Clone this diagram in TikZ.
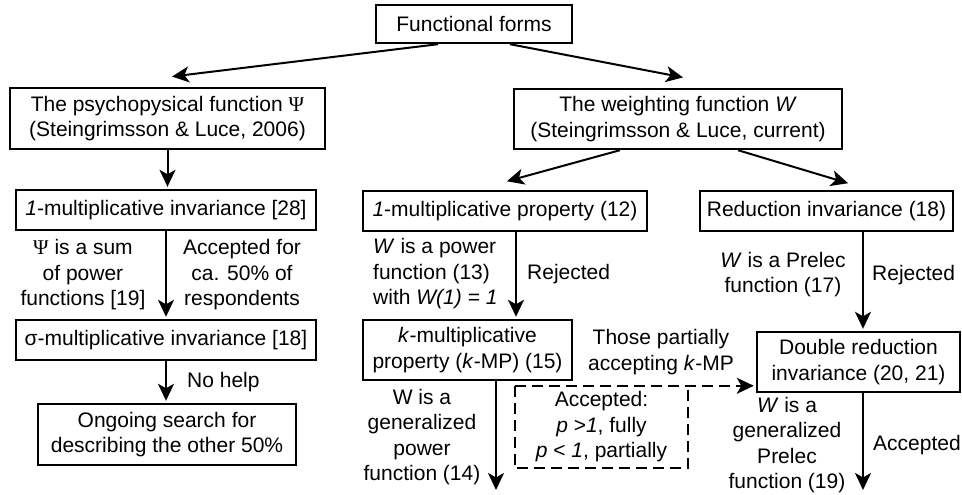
\documentclass[tikz,border=0pt]{standalone}
\usepackage{fontspec}
\setmainfont{Liberation Sans}
\newfontfamily\psifont{Liberation Serif}
\usetikzlibrary{arrows.meta, positioning}

\begin{document}
\begin{tikzpicture}[x=1pt, y=-1pt,
        every node/.style={font=\fontsize{21}{25.5}\selectfont, inner sep=0pt},
        box/.style={draw, line width=2.4pt, align=center},
        lbl/.style={align=center},
        arr/.style={line width=2pt, -{Stealth[length=17pt, width=16pt, inset=4.5pt]}, shorten >=2pt},
        dashline/.style={line width=2pt, dash pattern=on 11pt off 6pt}]
            \useasboundingbox (0,0) rectangle (962,495);

            % Boxes
            \node[box, minimum width=196pt, minimum height=38pt] (forms) at (474,24) {Functional forms};
            \node[box, minimum width=315pt, minimum height=61pt] (psych) at (167.5,118.5) {The psychopysical function {\psifont Ψ}\\(Steingrimsson \& Luce, 2006)};
            \node[box, minimum width=328pt, minimum height=60pt] (weight) at (678,119) {The weighting function \textit{W}\\(Steingrimsson \& Luce, current)};

            \node[box, minimum width=300pt, minimum height=40pt] (inv1) at (166,210) {\textit{1}-multiplicative invariance [28]};
            \node[box, minimum width=300pt, minimum height=40pt] (sigma) at (166,340) {σ-multiplicative invariance [18]};
            \node[box, minimum width=258pt, minimum height=61pt] (search) at (167,434.5) {Ongoing search for\\describing the other 50\%};

            \node[box, minimum width=284pt, minimum height=40pt] (prop) at (505,211) {\textit{1}-multiplicative property (12)};
            \node[box, minimum width=209pt, minimum height=60pt] (kmp) at (467.5,350) {\textit{k}-multiplicative\\property (\textit{k}-MP) (15)};

            \node[box, minimum width=253pt, minimum height=40pt] (red) at (826.5,211) {Reduction invariance (18)};
            \node[box, minimum width=203pt, minimum height=60pt] (dbl) at (858.5,362) {Double reduction\\invariance (20, 21)};

            % Labels along the arrows
            \node[lbl] (psilbl) at (83,275) {{\psifont Ψ} is a sum\\of power\\functions [19]};
            \node[lbl] (acclbl) at (242,275) {Accepted for\\ca. 50\% of\\respondents};
            \node[anchor=west] (nohelp) at (187,382) {No help};

            \node[anchor=west, align=left] (powlbl) at (373,274) {\textit{W} is a power\\function (13)\\with \textit{W(1) = 1}};
            \node[anchor=west] (rej1) at (527,274) {Rejected};
            \node[lbl] (genpow) at (422,437) {W is a\\generalized\\power\\function (14)};
            \node[lbl, minimum width=173pt, minimum height=82pt] (accbox) at (601.5,427) {Accepted:\\\textit{p} >\textit{1}, fully\\\textit{p} < \textit{1}, partially};
            \node[lbl] (partlbl) at (661,352) {Those partially\\accepting \textit{k}-MP};

            \node[lbl] (prelbl) at (783,274.5) {\textit{W} is a Prelec\\function (17)};
            \node[anchor=west] (rej2) at (872,275) {Rejected};
            \node[lbl] (genpre) at (787,445) {\textit{W} is a\\generalized\\Prelec\\function (19)};
            \node[anchor=west] (accd) at (873,445) {Accepted};

            % Free ends of the last arrows
            \coordinate (kmpend) at (496,492);
            \coordinate (dblend) at (863,492);

            % Arrows
            \draw[arr] ([xshift=-36pt]forms.south) -- ([xshift=2.5pt,yshift=10pt]psych.north);
            \draw[arr] ([xshift=36pt]forms.south) -- ([xshift=7pt,yshift=10pt]weight.north);
            \draw[arr] (psych.south) -- (psych.south |- inv1.north);
            \draw[arr] (inv1.south) -- (sigma.north);
            \draw[arr] (sigma.south) -- (sigma.south |- search.north);

            \draw[arr] ([xshift=-58pt]weight.south) -- ([yshift=8pt]prop.north);
            \draw[arr] ([xshift=60pt]weight.south) -- ([xshift=23.5pt,yshift=6pt]red.north);
            \draw[arr] ([xshift=11pt]prop.south) -- ([xshift=11pt]prop.south |- kmp.north);
            \draw[arr] ([xshift=28.5pt]kmp.south) -- (kmpend);
            \draw[arr] ([xshift=36.5pt]red.south) -- ([xshift=36.5pt]red.south |- dbl.north);
            \draw[arr] ([xshift=4.5pt]dbl.south) -- (dblend);

            % Dashed box, its top edge runs on to the double reduction box
            \draw[dashline] (accbox.north west) -- (accbox.south west) -- (accbox.south east) -- (accbox.north east);
            \draw[dashline, arr] (accbox.north west) -- (accbox.north west -| dbl.west);
        \end{tikzpicture}
\end{document}
